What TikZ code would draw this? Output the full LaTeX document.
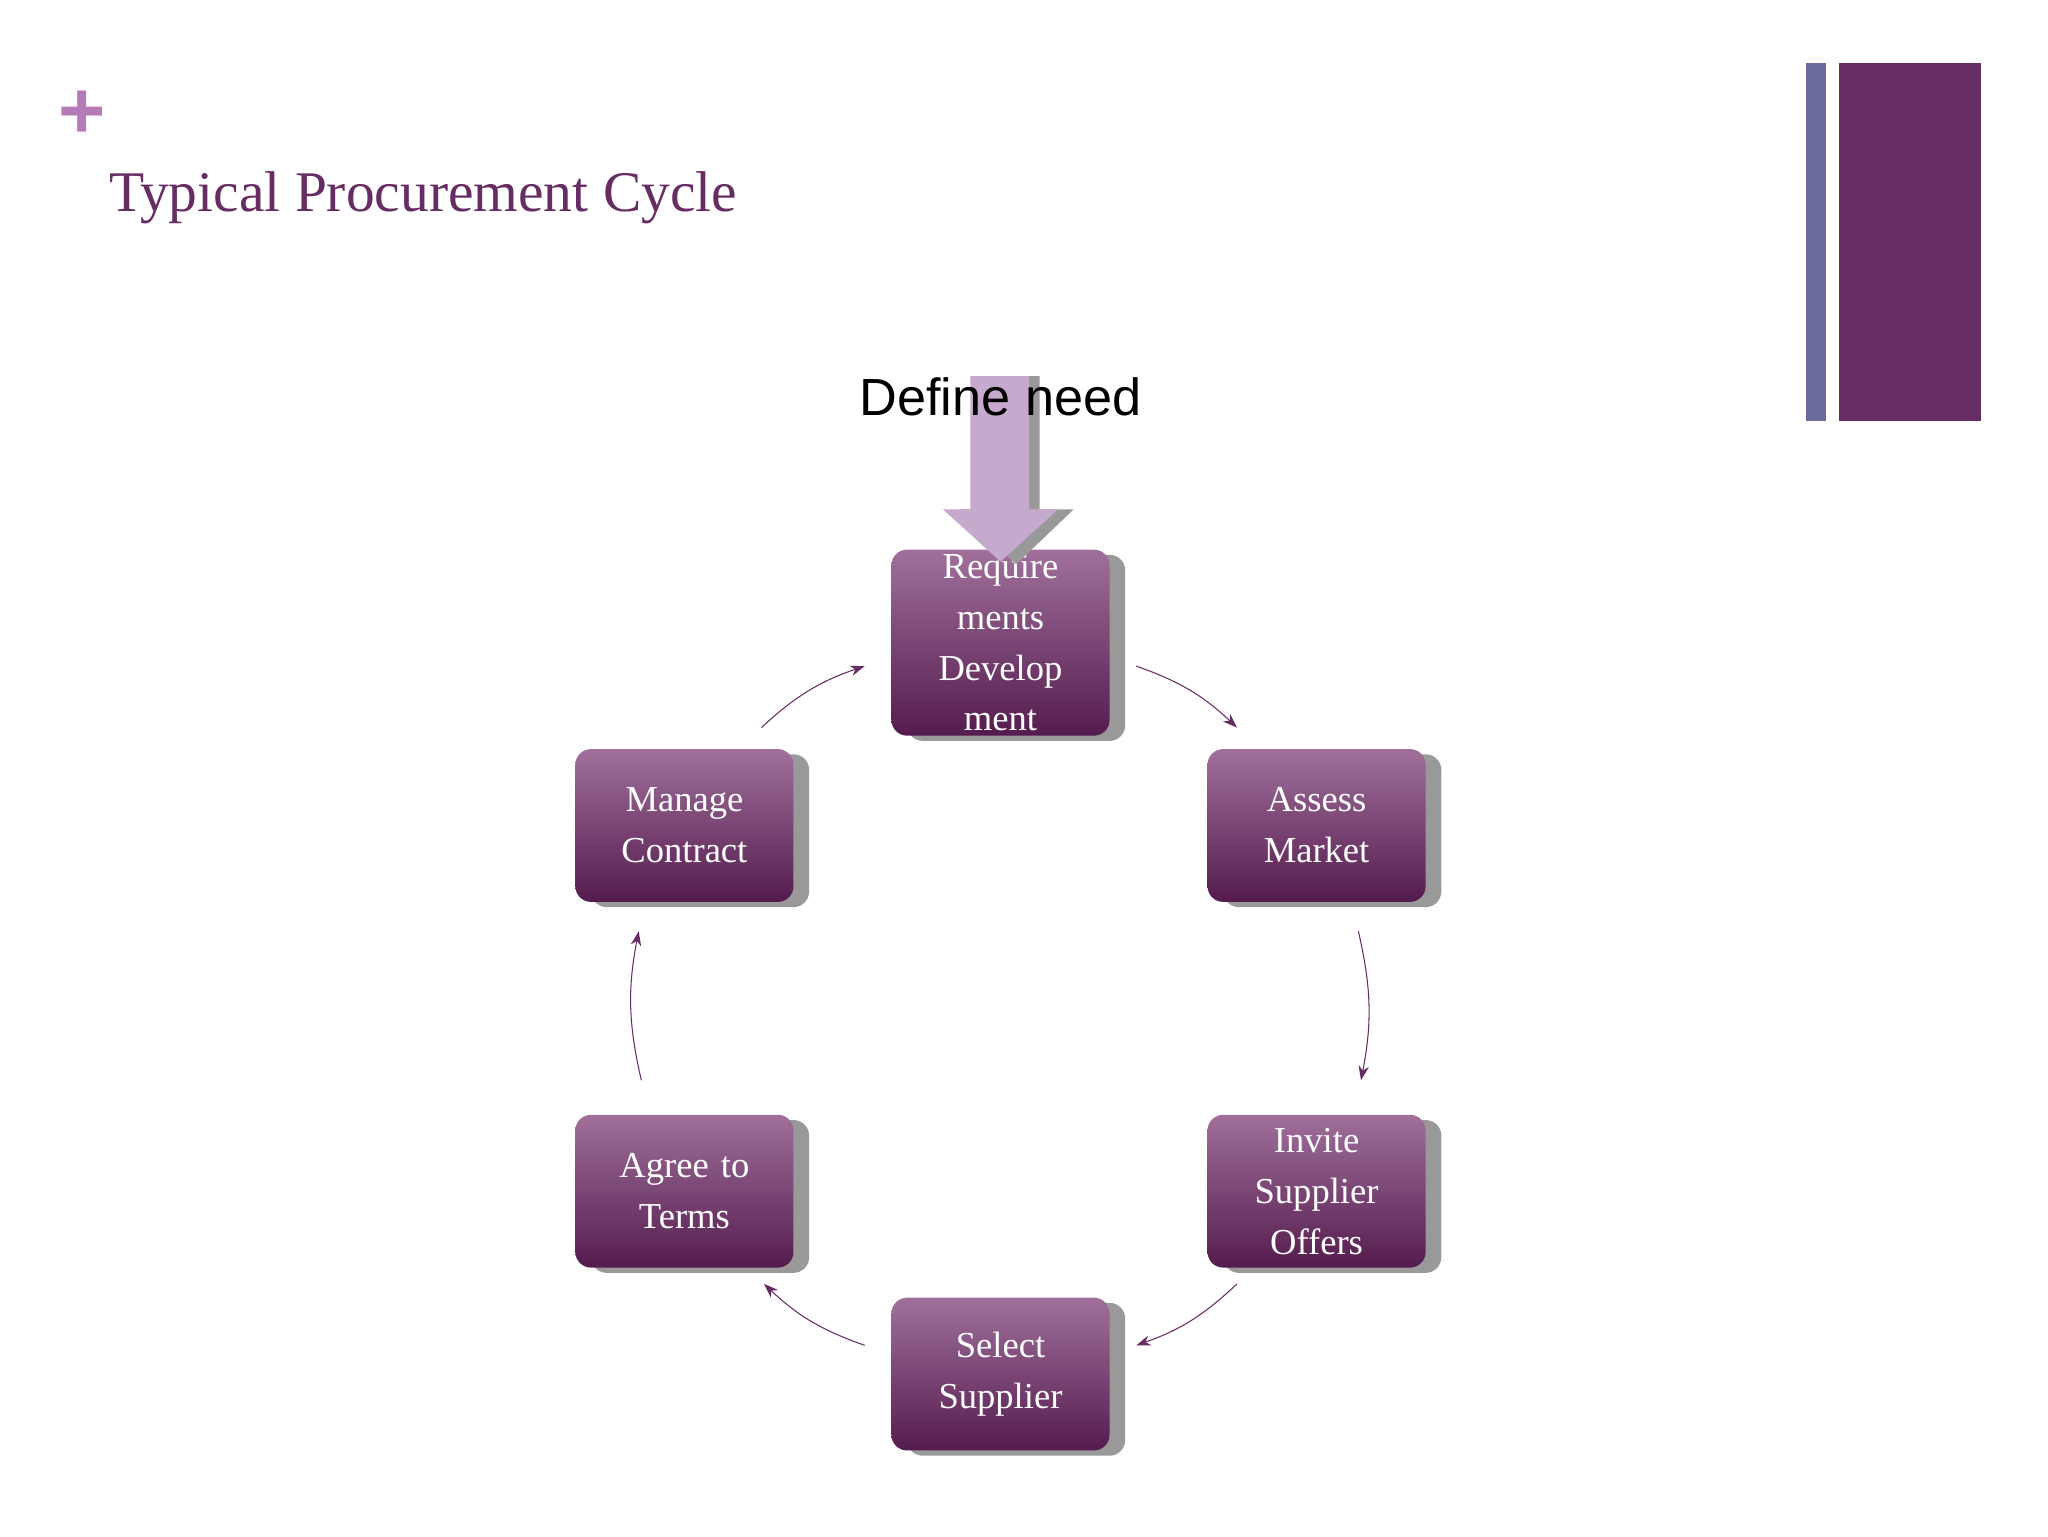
\documentclass[tikz,border=0pt]{standalone}
\usepackage{fontspec}
\setmainfont{Liberation Serif}
\newfontfamily\sansfont{Liberation Sans}
\usetikzlibrary{arrows.meta,shapes,positioning,calc,shadows}
\definecolor{procplum}{RGB}{102,45,99}
\definecolor{proclight}{RGB}{160,112,155}
\definecolor{procdark}{RGB}{84,28,78}
\definecolor{procpink}{RGB}{181,122,184}
\definecolor{procslate}{RGB}{107,107,158}
\definecolor{procarrow}{RGB}{197,170,205}
\tikzset{
	stagebox/.style={
		rectangle,
		rounded corners=12pt,
		top color=proclight,
		bottom color=procdark,
		draw=none,
		minimum width=167pt,
		minimum height=117pt,
		text width=160pt,
		align=center,
		font=\fontsize{28}{39}\selectfont\color{white},
		drop shadow={shadow xshift=12pt,shadow yshift=-4pt,fill=black!40,opacity=1},
	},
	cyclearc/.style={
		-{Stealth[length=11pt,width=8pt]},
		thick,
		draw=procplum,
	},
}
\begin{document}
\begin{tikzpicture}[x=1pt,y=-1pt]
	\useasboundingbox (0,0) rectangle (1568,1176);
	\fill[white] (0,0) rectangle (1568,1176);

	% header
	\node[font=\fontsize{62}{62}\selectfont\bfseries\sansfont,text=procpink] (plus) at (63,88) {+};
	\node[anchor=base west,font=\fontsize{44}{44}\selectfont,text=procplum] (title) at (80,162) {Typical Procurement Cycle};
	\fill[procslate] (1383,48) rectangle (1398,322);
	\fill[procplum] (1408,48) rectangle (1517,322);

	% stages
	\node[stagebox] (req) at (766,492) {Require\\ments\\Develop\\ment};
	\node[stagebox] (assess) at (1008,632) {Assess\\Market};
	\node[stagebox] (invite) at (1008,912) {Invite\\Supplier\\Offers};
	\node[stagebox] (select) at (766,1052) {Select\\Supplier};
	\node[stagebox] (agree) at (524,912) {Agree to\\Terms};
	\node[stagebox] (manage) at (524,632) {Manage\\Contract};

	% define need arrow
	\fill[black!40] (751,288) -- (796,288) -- (796,390) -- (822,390) -- (778,432) -- (734,390) -- (751,390) -- cycle;
	\fill[procarrow] (743,288) -- (788,288) -- (788,390) -- (810,390) -- (766,430) -- (722,390) -- (743,390) -- cycle;
	\node[font=\fontsize{40}{40}\selectfont\sansfont] (need) at (766,304) {Define need};

	\coordinate (c1) at (870,510);
	\coordinate (c2) at (947,557);
	\coordinate (c3) at (1040,713);
	\coordinate (c4) at (1042,827);
	\coordinate (c5) at (947,983);
	\coordinate (c6) at (870,1030);
	\coordinate (c7) at (662,1030);
	\coordinate (c8) at (585,983);
	\coordinate (c9) at (491,827);
	\coordinate (c10) at (489,713);
	\coordinate (c11) at (583,557);
	\coordinate (c12) at (662,510);

	\draw[cyclearc] (c1) to[bend left=12] (c2);
	\draw[cyclearc] (c3) to[bend left=12] (c4);
	\draw[cyclearc] (c5) to[bend left=12] (c6);
	\draw[cyclearc] (c7) to[bend left=12] (c8);
	\draw[cyclearc] (c9) to[bend left=12] (c10);
	\draw[cyclearc] (c11) to[bend left=12] (c12);
\end{tikzpicture}
\end{document}
